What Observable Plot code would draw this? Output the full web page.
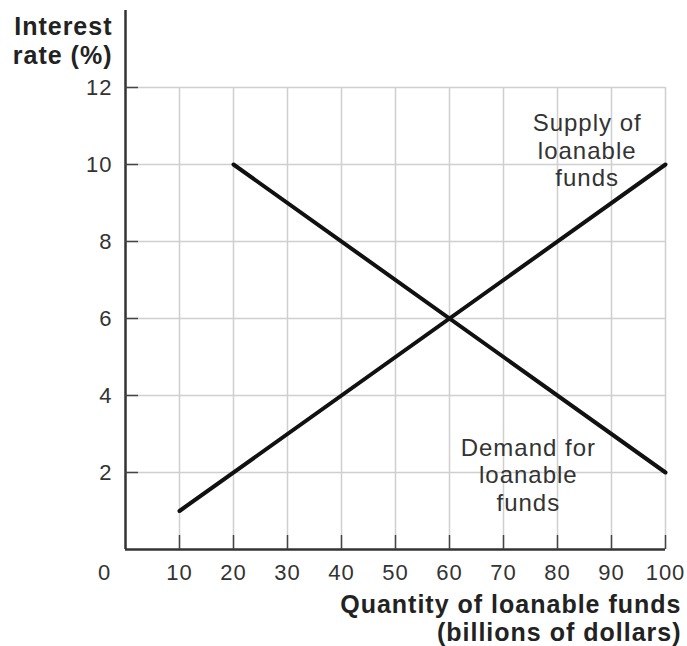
<!DOCTYPE html>
<html><head><meta charset="utf-8">
<script src="https://cdn.jsdelivr.net/npm/d3@7"></script>
<script src="https://cdn.jsdelivr.net/npm/@observablehq/plot@0.6"></script>
<style>body{margin:0;background:#fff}</style>
</head><body><div id="chart"></div>
<script>
const xTicks = [10, 20, 30, 40, 50, 60, 70, 80, 90, 100];
const yTicks = [2, 4, 6, 8, 10, 12];
const demand = [{q: 20, r: 10}, {q: 100, r: 2}];
const supply = [{q: 10, r: 1}, {q: 100, r: 10}];
const curveLabels = [
  {text: "Supply of\nloanable\nfunds", q: 85.5, r: 10.38},
  {text: "Demand for\nloanable\nfunds", q: 74.6, r: 1.95}
];
const yTitle = "Interest\nrate (%)";
const xTitle = "Quantity of loanable funds\n(billions of dollars)";
const originLabel = "0";

const chart = Plot.plot({
  width: 687,
  height: 646,
  marginLeft: 125,
  marginRight: 22,
  marginTop: 10,
  marginBottom: 97,
  style: {fontFamily: "'Liberation Sans', Arial, sans-serif", fontSize: "22px", letterSpacing: "1px", color: "#333", background: "#fff"},
  x: {domain: [0, 100], axis: null},
  y: {domain: [0, 14], axis: null},
  marks: [
    Plot.ruleY(yTicks, {y: d => d, x1: 0, x2: 100, stroke: "#cfcfcf", strokeWidth: 1.5}),
    Plot.ruleX(xTicks, {x: d => d, y1: 0, y2: 12, stroke: "#cfcfcf", strokeWidth: 1.5}),
    Plot.line(demand, {x: "q", y: "r", stroke: "#111", strokeWidth: 4}),
    Plot.line(supply, {x: "q", y: "r", stroke: "#111", strokeWidth: 4}),
    Plot.ruleX([0], {y1: 0, y2: 14, stroke: "#333", strokeWidth: 2.5}),
    Plot.ruleY([0], {x1: 0, x2: 100, stroke: "#333", strokeWidth: 2.5}),
    Plot.axisX(xTicks, {anchor: "bottom", label: null, tickSize: -14, tickPadding: 29, stroke: "#444", strokeWidth: 1.5, fill: "#333", fontSize: 22}),
    Plot.axisY(yTicks, {anchor: "left", label: null, tickSize: -13, tickPadding: 26, stroke: "#444", strokeWidth: 1.5, fill: "#333", fontSize: 22}),
    Plot.text([originLabel], {x: 0, y: 0, text: d => d, dx: -21, dy: 23, fontSize: 22, fill: "#333"}),
    Plot.text(curveLabels, {x: "q", y: "r", text: "text", fontSize: 24, lineHeight: 1.15, textAnchor: "middle", fill: "#333"}),
    Plot.text([yTitle], {x: 0, y: 14, text: d => d, dx: -13, dy: 4, textAnchor: "end", lineAnchor: "top", fontSize: 25, fontWeight: "bold", lineHeight: 1.16, fill: "#222"}),
    Plot.text([xTitle], {x: 100, y: 0, text: d => d, dx: 16, dy: 44, textAnchor: "end", lineAnchor: "top", fontSize: 25, fontWeight: "bold", lineHeight: 1.12, fill: "#222"})
  ]
});
document.getElementById("chart").appendChild(chart);
</script>
</body></html>
